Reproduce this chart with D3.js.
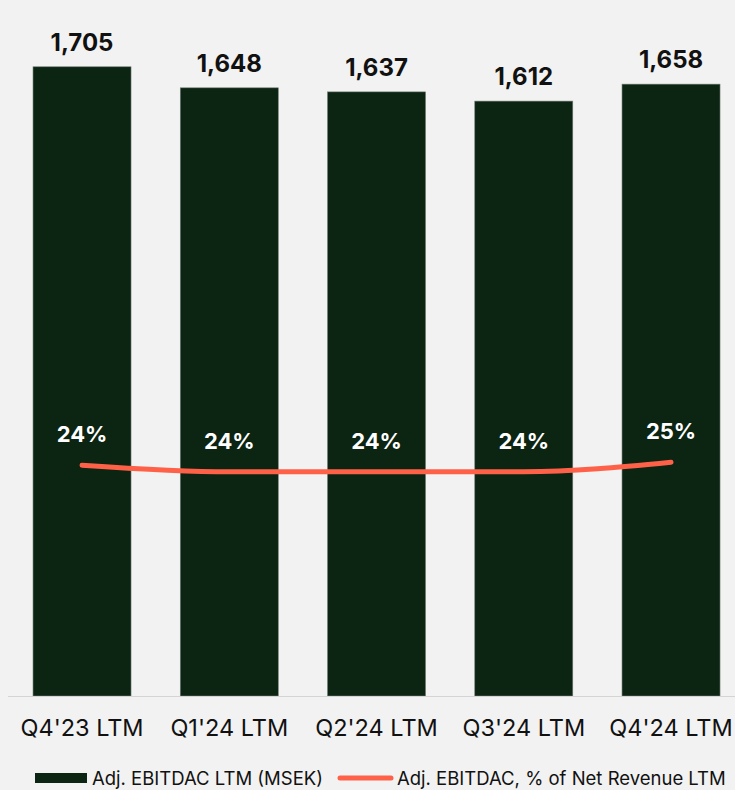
<!DOCTYPE html>
<html>
<head>
<meta charset="utf-8">
<script src="https://cdn.jsdelivr.net/npm/d3@7"></script>
<style>
html,body{margin:0;padding:0;background:#f2f2f2;}
svg{display:block;font-family:Inter, "Noto Sans", sans-serif;}
</style>
</head>
<body>
<svg id="chart" width="735" height="790"></svg>
<script>
const categories = ["Q4'23 LTM","Q1'24 LTM","Q2'24 LTM","Q3'24 LTM","Q4'24 LTM"];
const ebitdac = [1705,1648,1637,1612,1658];
const marginPct = [24.3,23.6,23.6,23.6,24.6];
const barLabels = ["1,705","1,648","1,637","1,612","1,658"];
const pctLabels = ["24%","24%","24%","24%","25%"];
const legendLabels = ["Adj. EBITDAC LTM (MSEK)","Adj. EBITDAC, % of Net Revenue LTM"];

const barColor = "#0c2412", lineColor = "#ff6148";
const svg = d3.select("#chart");
const baseY = 696;

const x = d3.scaleBand().domain(categories).range([8.4, 744.65]).paddingInner(0.3345).paddingOuter(0.3345/2);
const y = d3.scaleLinear().domain([0,1886]).range([baseY,0]);
const y2 = d3.scaleLinear().domain([0,73.26]).range([baseY,0]);

// bars
svg.selectAll("rect.bar").data(ebitdac).enter().append("rect")
  .attr("class","bar")
  .attr("x",(d,i)=>x(categories[i]))
  .attr("width",x.bandwidth())
  .attr("y",d=>y(d))
  .attr("height",d=>baseY-y(d))
  .attr("fill",barColor)
  .attr("stroke","#6f7d72").attr("stroke-width",0.6);

// baseline
svg.append("line").attr("x1",8).attr("x2",735).attr("y1",baseY+0.5).attr("y2",baseY+0.5)
  .attr("stroke","#d4d4d4").attr("stroke-width",1);

// bar value labels
svg.selectAll("text.val").data(ebitdac).enter().append("text")
  .attr("x",(d,i)=>x(categories[i])+x.bandwidth()/2)
  .attr("y",d=>y(d)-16)
  .attr("text-anchor","middle")
  .attr("font-size",24).attr("font-weight",700).attr("fill","#111")
  .text((d,i)=>barLabels[i]);

// line
const line = d3.line().x((d,i)=>x(categories[i])+x.bandwidth()/2).y(d=>y2(d)).curve(d3.curveMonotoneX);
svg.append("path").datum(marginPct).attr("d",line)
  .attr("fill","none").attr("stroke",lineColor).attr("stroke-width",5)
  .attr("stroke-linecap","round").attr("stroke-linejoin","round");

// pct labels
svg.selectAll("text.pct").data(marginPct).enter().append("text")
  .attr("x",(d,i)=>x(categories[i])+x.bandwidth()/2)
  .attr("y",d=>y2(d)-23)
  .attr("text-anchor","middle")
  .attr("font-size",22).attr("font-weight",700).attr("fill","#ffffff")
  .text((d,i)=>pctLabels[i]);

// x axis
const xAxis = d3.axisBottom(x).tickSize(0).tickPadding(0);
const gx = svg.append("g").attr("transform",`translate(0,${baseY})`).call(xAxis);
gx.select(".domain").remove();
gx.selectAll("text").attr("font-family","Inter, sans-serif").attr("font-size",23.5).attr("fill","#111").attr("dy",null).attr("y",40);

// legend
const lg = svg.append("g");
lg.append("rect").attr("x",35).attr("y",773).attr("width",52).attr("height",10).attr("fill",barColor);
lg.append("text").attr("x",92).attr("y",785).attr("font-size",18.5).attr("fill","#111").text(legendLabels[0]);
lg.append("line").attr("x1",340).attr("x2",391).attr("y1",778).attr("y2",778)
  .attr("stroke",lineColor).attr("stroke-width",5).attr("stroke-linecap","round");
lg.append("text").attr("x",397).attr("y",785).attr("font-size",18.5).attr("fill","#111").text(legendLabels[1]);
</script>
</body>
</html>
